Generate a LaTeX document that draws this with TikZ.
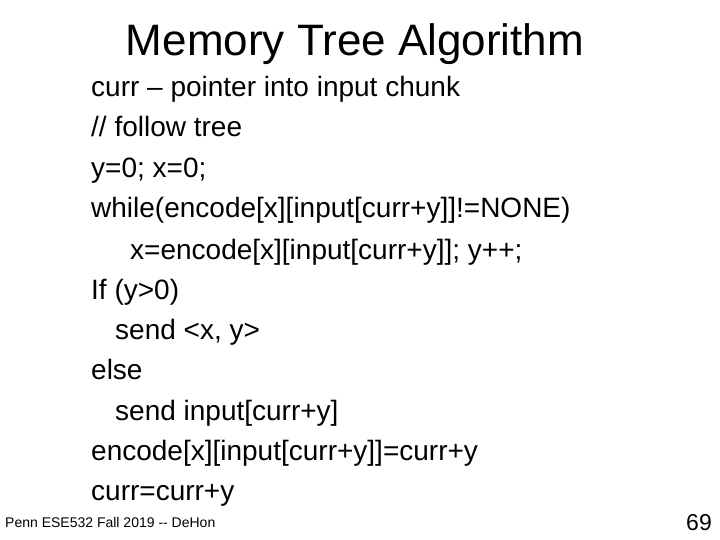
\documentclass[tikz,border=0pt]{standalone}
\usepackage{fontspec}
\setmainfont{Liberation Sans}
\begin{document}
\begin{tikzpicture}[x=1pt,y=-1pt,
  body/.style={anchor=base west,inner sep=0pt,font=\fontsize{28}{32}\selectfont}]
\useasboundingbox (0,0) rectangle (720,540);
\node[anchor=base,inner sep=0pt,font=\fontsize{44}{50}\selectfont] (title) at (355,56) {Memory Tree Algorithm};
\node[body] (l1) at (91,97) {curr -- pointer into input chunk};
\node[body] (l2) at (91,137) {// follow tree};
\node[body] (l3) at (91,178) {y=0; x=0;};
\node[body] (l4) at (91,218) {while(encode[x][input[curr+y]]!=NONE)};
\node[body] (l5) at (130,259) {x=encode[x][input[curr+y]]; y++;};
\node[body] (l6) at (91,299) {If (y>0)};
\node[body] (l7) at (115,339) {send <x, y>};
\node[body] (l8) at (91,379) {else};
\node[body] (l9) at (115,420) {send input[curr+y]};
\node[body] (l10) at (91,460) {encode[x][input[curr+y]]=curr+y};
\node[body] (l11) at (91,500) {curr=curr+y};
\node[anchor=base west,inner sep=0pt,font=\fontsize{14}{16}\selectfont] (foot) at (5,527) {Penn ESE532 Fall 2019 -{}- DeHon};
\node[anchor=base east,inner sep=0pt,font=\fontsize{23}{27}\selectfont] (num) at (712,530) {69};
\end{tikzpicture}
\end{document}
